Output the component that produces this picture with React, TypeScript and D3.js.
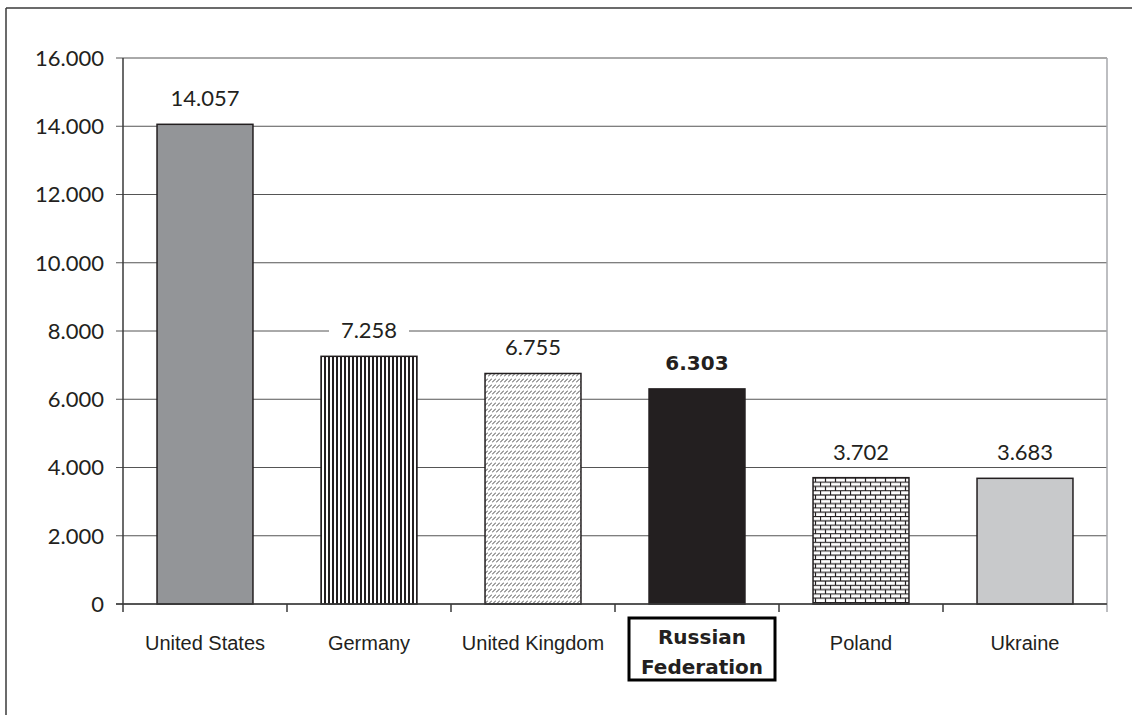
import React from "react";
import * as d3 from "d3";

const categories = ["United States", "Germany", "United Kingdom", "Russian Federation", "Poland", "Ukraine"];
const values = [14057, 7258, 6755, 6303, 3702, 3683];
const yTicks = [0, 2000, 4000, 6000, 8000, 10000, 12000, 14000, 16000];
const fills = ["#939598", "url(#pGermany)", "url(#pUK)", "#231f20", "url(#pPoland)", "#c8c9cb"];
const highlight = "Russian Federation";

const W = 1132, H = 715;
const M = { left: 123, right: 1107, top: 58, bottom: 604 };

const loc = d3.formatLocale({ decimal: ",", thousands: ".", grouping: [3], currency: ["", ""] });
const fmt = loc.format(",d");

const numFont = "Lato, 'Open Sans', sans-serif";
const boldFont = "'DejaVu Sans', sans-serif";
const catFont = "'Liberation Sans', Arial, sans-serif";

export default function App() {
  const x = d3.scaleBand<string>().domain(categories).range([M.left, M.right]).paddingInner(0.415).paddingOuter(0.2075);
  const xb = d3.scaleBand<string>().domain(categories).range([M.left, M.right]).padding(0);
  const y = d3.scaleLinear().domain([0, 16000]).range([M.bottom, M.top]);

  return (
    <svg width={W} height={H} style={{ position: "absolute", left: 0, top: 0, background: "#fff" }}>
      <defs>
        <pattern id="pGermany" patternUnits="userSpaceOnUse" width={4} height={4}>
          <rect width={4} height={4} fill="#fff" />
          <rect x={0} width={2} height={4} fill="#231f20" />
        </pattern>
        <pattern id="pUK" patternUnits="userSpaceOnUse" width={4} height={6}>
          <rect width={4} height={6} fill="#fff" />
          <line x1={0} y1={4.5} x2={4} y2={0.5} stroke="#444" strokeWidth={1} />
        </pattern>
        <pattern id="pPoland" patternUnits="userSpaceOnUse" width={10} height={8.6}>
          <rect width={10} height={8.6} fill="#fff" />
          <line x1={0} y1={0.5} x2={10} y2={0.5} stroke="#231f20" strokeWidth={1.2} />
          <line x1={0} y1={4.8} x2={10} y2={4.8} stroke="#231f20" strokeWidth={1.2} />
          <line x1={0.5} y1={0.5} x2={0.5} y2={4.8} stroke="#231f20" strokeWidth={1.2} />
          <line x1={5.5} y1={4.8} x2={5.5} y2={8.6} stroke="#231f20" strokeWidth={1.2} />
        </pattern>
      </defs>

      {/* outer frame */}
      <line x1={6} y1={8} x2={W} y2={8} stroke="#3a3a3a" strokeWidth={1.5} />
      <line x1={6} y1={8} x2={6} y2={H} stroke="#3a3a3a" strokeWidth={1.5} />

      {/* gridlines */}
      {yTicks.map((t) => (
        <line key={"g" + t} x1={M.left - 7} x2={M.right} y1={y(t)} y2={y(t)} stroke="#555" strokeWidth={1} />
      ))}
      {/* right border */}
      <line x1={M.right} x2={M.right} y1={M.top} y2={M.bottom + 8} stroke="#a7a9ac" strokeWidth={1.5} />

      {/* y tick labels */}
      {yTicks.map((t) => (
        <text key={"t" + t} x={M.left - 19} y={y(t)} dy="0.36em" textAnchor="end" fontFamily={numFont} fontSize={22} fill="#231f20">
          {fmt(t)}
        </text>
      ))}

      {/* bars */}
      {categories.map((c, i) => (
        <rect key={"b" + c} x={x(c)} y={y(values[i])} width={x.bandwidth()} height={y(0) - y(values[i])}
          fill={fills[i]} stroke="#231f20" strokeWidth={1.5} />
      ))}

      {/* value labels with white boxes */}
      {categories.map((c, i) => {
        const cx = (x(c) as number) + x.bandwidth() / 2;
        const cy = y(values[i]) - 26;
        const bold = c === highlight;
        return (
          <g key={"v" + c}>
            <rect x={cx - 40} y={cy - 13} width={80} height={26} fill="#fff" />
            <text x={cx} y={cy} dy="0.36em" textAnchor="middle" fontFamily={bold ? boldFont : numFont} fontSize={bold ? 20 : 22}
              fontWeight={bold ? 700 : 400} fill="#231f20">{fmt(values[i])}</text>
          </g>
        );
      })}

      {/* axes */}
      <line x1={M.left} x2={M.left} y1={M.top} y2={M.bottom} stroke="#3a3a3a" strokeWidth={1.5} />
      <line x1={M.left - 7} x2={M.right} y1={M.bottom} y2={M.bottom} stroke="#3a3a3a" strokeWidth={1.5} />
      {categories.map((c) => (
        <line key={"xt" + c} x1={xb(c)} x2={xb(c)} y1={M.bottom} y2={M.bottom + 8} stroke="#3a3a3a" strokeWidth={1.5} />
      ))}

      {/* category labels */}
      {categories.map((c) => {
        const cx = (xb(c) as number) + xb.bandwidth() / 2;
        if (c === highlight) {
          const parts = c.split(" ");
          return (
            <g key={"c" + c}>
              <rect x={cx - 68} y={618} width={146} height={62} fill="#fff" stroke="#000" strokeWidth={3} />
              {parts.map((p, k) => (
                <text key={p} x={cx + 5} y={637 + k * 30} dy="0.36em" textAnchor="middle" fontFamily={boldFont}
                  fontWeight={700} fontSize={20} fill="#231f20">{p}</text>
              ))}
            </g>
          );
        }
        return (
          <text key={"c" + c} x={cx} y={643} dy="0.36em" textAnchor="middle" fontFamily={catFont} fontSize={20} fill="#231f20">
            {c}
          </text>
        );
      })}
    </svg>
  );
}
